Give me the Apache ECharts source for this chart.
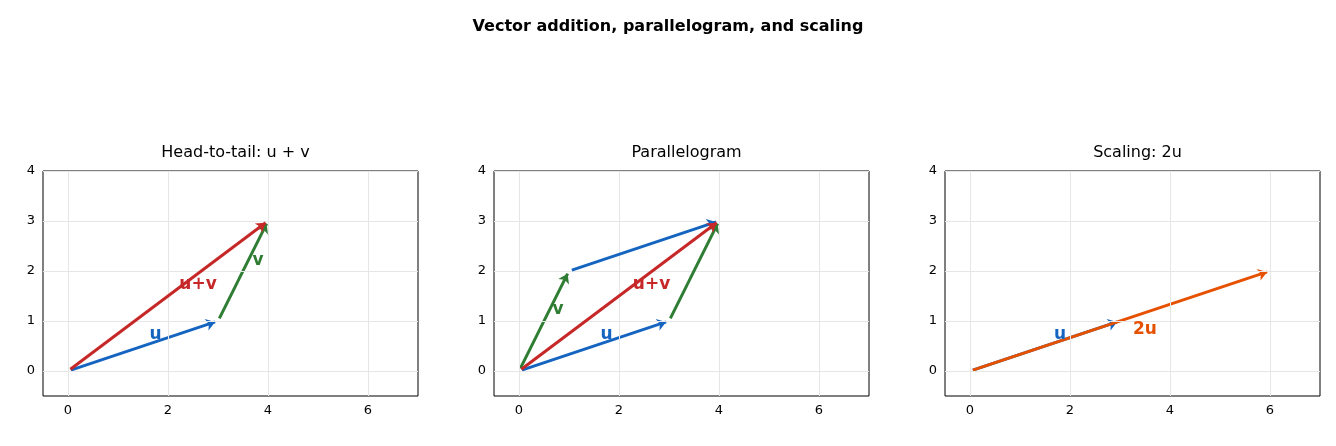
<!DOCTYPE html><html><head><meta charset="utf-8"><script src="https://cdn.jsdelivr.net/npm/echarts@6/dist/echarts.min.js"></script></head><body style="margin:0;background:#fff"><div id="c" style="width:1336px;height:446px"></div><script>
const titles=["Head-to-tail: u + v","Parallelogram","Scaling: 2u"];
const xTicks=[0,2,4,6], yTicks=[0,1,2,3,4];
// arrows per panel: [x0,y0,x1,y1,colorKey]
const arrows=[
 [[0,0,3,1,"u"],[3,1,4,3,"v"],[0,0,4,3,"s"]],
 [[0,0,3,1,"u"],[0,0,1,2,"v"],[1,2,4,3,"u"],[3,1,4,3,"v"],[0,0,4,3,"s"]],
 [[0,0,3,1,"u"],[0,0,6,2,"o"]]
];
const labels=[
 [["u",1.75,0.72,"u"],["v",3.8,2.2,"v"],["u+v",2.6,1.72,"s"]],
 [["v",0.78,1.22,"v"],["u",1.75,0.72,"u"],["u+v",2.65,1.72,"s"]],
 [["u",1.8,0.72,"u"],["2u",3.5,0.82,"o"]]
];
const col={u:"#1565c0",v:"#2e7d32",s:"#c62828",o:"#e65100"};
const F="DejaVu Sans";
const lefts=[43,494,945], w=375;
const grid=[],xAxis=[],yAxis=[],series=[],title=[{text:"Vector addition, parallelogram, and scaling",left:"center",top:14,textStyle:{fontSize:16,fontWeight:"bold",color:"#000",fontFamily:F}}];
for(let i=0;i<3;i++){
 grid.push({left:lefts[i],top:171,width:w,height:225,show:true,borderColor:"#000",borderWidth:1});
 title.push({text:titles[i],left:lefts[i]+w/2,textAlign:"center",top:140,textStyle:{fontSize:16,fontWeight:"normal",color:"#000",fontFamily:F}});
 xAxis.push({gridIndex:i,type:"value",min:-0.5,max:7,axisLine:{show:false},axisTick:{show:true,length:4,lineStyle:{color:"#000"},customValues:xTicks},axisLabel:{color:"#000",fontSize:13,fontFamily:F,customValues:xTicks},splitLine:{show:false}});
 yAxis.push({gridIndex:i,type:"value",min:-0.5,max:4,axisLine:{show:false},axisTick:{show:true,length:4,lineStyle:{color:"#000"},customValues:yTicks},axisLabel:{color:"#000",fontSize:13,fontFamily:F,customValues:yTicks},splitLine:{show:false}});
 series.push({type:"line",xAxisIndex:i,yAxisIndex:i,data:[],silent:true,markLine:{silent:true,symbol:"none",label:{show:false},lineStyle:{color:"#e6e6e6",type:"solid",width:1},data:[...xTicks.map(v=>({xAxis:v})),...yTicks.map(v=>({yAxis:v}))]}});
 arrows[i].forEach((a,k)=>{const L=Math.hypot(a[2]-a[0],a[3]-a[1]),dx=0.06*(a[2]-a[0])/L,dy=0.06*(a[3]-a[1])/L;
  series.push({type:"lines",coordinateSystem:"cartesian2d",xAxisIndex:i,yAxisIndex:i,z:3+k,symbol:["none","arrow"],symbolSize:9,lineStyle:{color:col[a[4]],width:3,opacity:1},data:[{coords:[[a[0]+dx,a[1]+dy],[a[2]-dx,a[3]-dy]]}]});});
 series.push({type:"scatter",xAxisIndex:i,yAxisIndex:i,symbolSize:1,itemStyle:{opacity:0},z:20,data:labels[i].map(l=>({value:[l[1],l[2]],label:{show:true,formatter:l[0],position:"inside",color:col[l[3]],opacity:1,fontSize:17,fontWeight:"bold",fontFamily:F}}))});
}
const ch=echarts.init(document.getElementById("c"));
ch.setOption({animation:false,title,grid,xAxis,yAxis,series});
</script></body></html>
